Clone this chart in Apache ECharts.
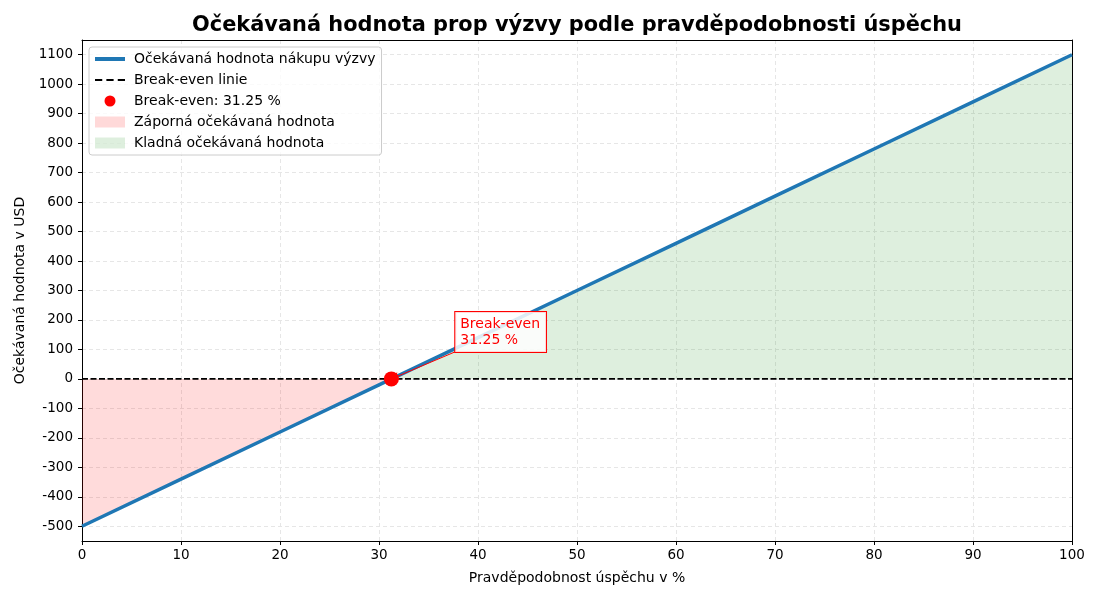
<!DOCTYPE html>
<html>
<head>
<meta charset="utf-8">
<script src="https://cdn.jsdelivr.net/npm/echarts@6/dist/echarts.min.js"></script>
<style>
  html, body { margin: 0; padding: 0; background: #fff; }
  #main { width: 1100px; height: 600px; }
</style>
</head>
<body>
<div id="main"></div>
<script>
// data
const probs = [0, 10, 20, 30, 40, 50, 60, 70, 80, 90, 100];
const evValues = [-500, -340, -180, -20, 140, 300, 460, 620, 780, 940, 1100];
const breakEven = [31.25, 0];
const negPart = [[0, -500], [31.25, 0]];
const posPart = [[31.25, 0], [100, 1100]];
const yTicks = [-500, -400, -300, -200, -100, 0, 100, 200, 300, 400, 500, 600, 700, 800, 900, 1000, 1100];
const annoFrom = [37.7, 92];
const annoText = ["Break-even", "31.25 %"];

const FONT = "DejaVu Sans";
const myChart = echarts.init(document.getElementById("main"));

const evLine = probs.map((p, i) => [p, evValues[i]]);

// plain axis line only, used for the top / right frame
const spine = {
  axisLine: { show: true, onZero: false, lineStyle: { color: "#000" } },
  axisTick: { show: false },
  axisLabel: { show: false },
  splitLine: { show: false }
};

myChart.setOption({
  animation: false,
  textStyle: { fontFamily: FONT },
  title: {
    text: "Očekávaná hodnota prop výzvy podle pravděpodobnosti úspěchu",
    left: 572,
    textAlign: "center",
    top: 10,
    textStyle: { fontFamily: FONT, fontSize: 20.9, fontWeight: "bold", color: "#000" }
  },
  grid: {
    left: 82, right: 28, top: 40, bottom: 59
  },
  legend: {
    orient: "vertical",
    left: 89,
    top: 47,
    padding: [5, 6, 5, 6],
    itemGap: 7,
    itemWidth: 30,
    itemHeight: 11,
    backgroundColor: "rgba(255,255,255,0.8)",
    borderColor: "#ccc",
    borderWidth: 1,
    borderRadius: 3,
    textStyle: { fontFamily: FONT, fontSize: 14, color: "#000", padding: [0, 0, 0, 4] },
    data: [
      { name: "Očekávaná hodnota nákupu výzvy", icon: "path://M0,0H30V4H0Z", itemStyle: { color: "#1f77b4" } },
      { name: "Break-even linie", icon: "path://M0,0H7V2H0Z M11,0H18V2H11Z M22,0H29V2H22Z", itemStyle: { color: "#000" } },
      { name: "Break-even: 31.25 %", icon: "circle", itemStyle: { color: "red" } },
      { name: "Záporná očekávaná hodnota", icon: "rect", itemStyle: { color: "rgba(255,0,0,0.15)" } },
      { name: "Kladná očekávaná hodnota", icon: "rect", itemStyle: { color: "rgba(0,128,0,0.13)" } }
    ]
  },
  xAxis: [{
    type: "value",
    min: 0, max: 100, interval: 10,
    name: "Pravděpodobnost úspěchu v %",
    nameLocation: "middle",
    nameGap: 30,
    nameTextStyle: { fontFamily: FONT, fontSize: 14, color: "#000" },
    axisLine: { show: true, onZero: false, lineStyle: { color: "#000" } },
    axisTick: { show: true, inside: false, length: 4, lineStyle: { color: "#000" } },
    axisLabel: { fontFamily: FONT, fontSize: 13.5, color: "#000", margin: 7 },
    splitLine: { show: true, lineStyle: { color: "#e6e6e6", type: [4, 3] } }
  }, Object.assign({ type: "value", position: "top", min: 0, max: 100 }, spine)],
  yAxis: [{
    type: "value",
    min: -550, max: 1150,
    name: "Očekávaná hodnota v USD",
    nameLocation: "middle",
    nameGap: 54,
    nameTextStyle: { fontFamily: FONT, fontSize: 14, color: "#000" },
    axisLine: { show: true, onZero: false, lineStyle: { color: "#000" } },
    axisTick: { show: true, length: 4, customValues: yTicks, lineStyle: { color: "#000" } },
    axisLabel: {
      fontFamily: FONT, fontSize: 13.5, color: "#000", margin: 9, customValues: yTicks,
      formatter: v => String(v)
    },
    splitLine: { show: true, lineStyle: { color: "#e6e6e6", type: [4, 3] } }
  }, Object.assign({ type: "value", position: "right", min: -550, max: 1150 }, spine)],
  series: [
    {
      name: "Záporná očekávaná hodnota",
      type: "line",
      data: negPart,
      showSymbol: false,
      lineStyle: { width: 0 },
      itemStyle: { color: "rgba(255,0,0,0.15)" },
      areaStyle: { color: "rgba(255,0,0,0.14)", origin: 0, opacity: 1 },
      z: 1
    },
    {
      name: "Kladná očekávaná hodnota",
      type: "line",
      data: posPart,
      showSymbol: false,
      lineStyle: { width: 0 },
      itemStyle: { color: "rgba(0,128,0,0.13)" },
      areaStyle: { color: "rgba(0,128,0,0.13)", origin: 0, opacity: 1 },
      z: 1
    },
    {
      name: "Break-even linie",
      type: "line",
      data: [[0, 0], [100, 0]],
      showSymbol: false,
      itemStyle: { color: "#000" },
      lineStyle: { color: "#000", width: 1.7, type: [6, 2.5] },
      z: 3
    },
    {
      name: "Očekávaná hodnota nákupu výzvy",
      type: "line",
      data: evLine,
      showSymbol: false,
      itemStyle: { color: "#1f77b4" },
      lineStyle: { color: "#1f77b4", width: 3.5 },
      z: 4,
      markLine: {
        silent: true,
        symbol: ["none", "arrow"],
        symbolSize: [6, 8],
        label: { show: false },
        lineStyle: { color: "red", width: 1, type: "solid", opacity: 1 },
        data: [[{ coord: annoFrom }, { coord: breakEven }]]
      }
    },
    {
      name: "Break-even: 31.25 %",
      type: "scatter",
      data: [breakEven],
      symbol: "circle",
      symbolSize: 15,
      itemStyle: { color: "red", opacity: 1 },
      z: 6
    },
    {
      name: "annotation",
      type: "scatter",
      data: [[annoFrom[0], 159]],
      symbolSize: 0,
      silent: true,
      z: 7,
      itemStyle: { opacity: 1 },
      label: {
        show: true,
        position: "right",
        distance: 0,
        formatter: annoText.join("\n"),
        fontFamily: FONT,
        fontSize: 14,
        lineHeight: 16,
        color: "red",
        backgroundColor: "rgba(255,255,255,0.85)",
        borderColor: "red",
        borderWidth: 1,
        padding: [4, 6, 4, 5]
      }
    }
  ]
});
</script>
</body>
</html>
